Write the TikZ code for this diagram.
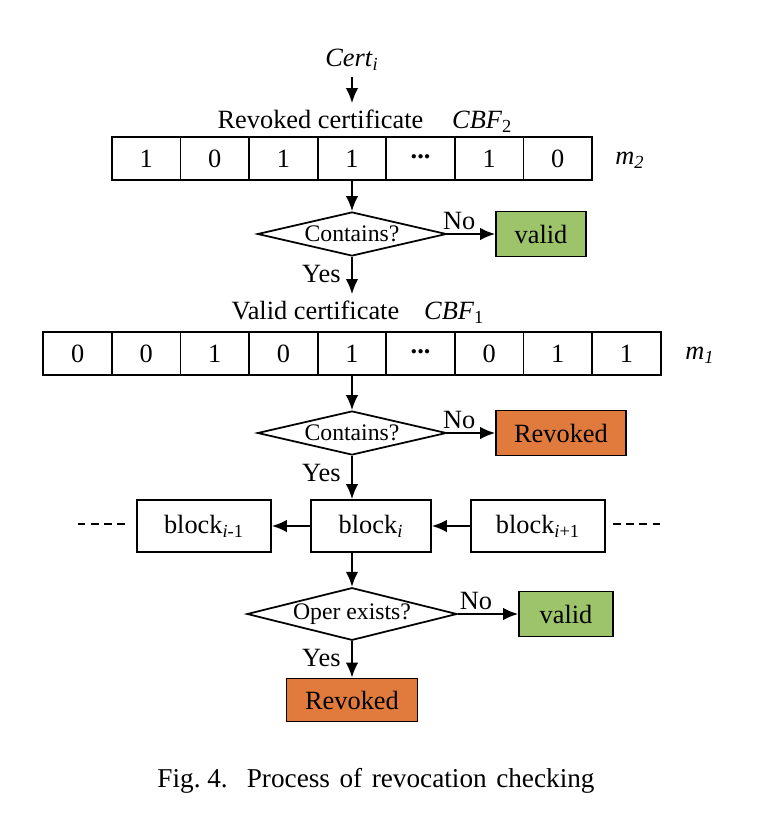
\documentclass[tikz,border=0pt]{standalone}
\usepackage{fontspec}
\setmainfont{Liberation Serif}
\usepackage{tikz}
\usetikzlibrary{shapes.geometric,arrows.meta}
\definecolor{ValidGreen}{HTML}{9DC46B}
\definecolor{RevokedOrange}{HTML}{E07B3D}
\newcommand{\celldots}{\raisebox{0.3ex}{\textbf{...}}}

\begin{document}
\begin{tikzpicture}[x=0.02cm,y=-0.02cm,
    font=\fontsize{15pt}{18pt}\selectfont,
    line width=1pt,
    cell/.style={draw, minimum width=1.372cm, minimum height=0.86cm, inner sep=0pt},
    check/.style={draw, diamond, aspect=4.3, inner sep=0pt,
      minimum width=3.78cm, minimum height=0.88cm,
      font=\fontsize{13.5pt}{16pt}\selectfont},
    blockbox/.style={draw, minimum height=1.04cm, inner sep=0pt},
    result/.style={draw, minimum height=0.9cm, inner sep=0pt},
    flow/.style={-{Latex[length=3mm,width=2.5mm]}},
    yeslabel/.style={left, inner sep=6pt},
    nolabel/.style={above, inner sep=2pt},
    dashline/.style={dash pattern=on 4.5pt off 3pt}]
  \useasboundingbox (0,0) rectangle (776,828);

  % revoked certificates filter
  \node (cert) at (352,60) {\textit{Cert}\textsubscript{\textit{i}}};
  \node (lab2) at (365,121) {Revoked certificate\hspace{1.1em}\textit{CBF}\textsubscript{2}};
  \foreach \b [count=\k] in {1,0,1,1,\celldots,1,0}
    \node[cell] (r\k) at ({352+68.6*(\k-4)},158.5) {\b};
  \node (m2) at (630,160) {\textit{m}\textsubscript{\textit{2}}};

  \node[check] (dia1) at (352,234) {Contains?};
  \node[result, fill=ValidGreen, minimum width=1.8cm] (ok1) at (541,234) {valid};

  % valid certificates filter
  \node (lab1) at (358,312) {Valid certificate\hspace{0.95em}\textit{CBF}\textsubscript{1}};
  \foreach \b [count=\k] in {0,0,1,0,1,\celldots,0,1,1}
    \node[cell] (v\k) at ({352+68.6*(\k-5)},353.5) {\b};
  \node (m1) at (700,355) {\textit{m}\textsubscript{\textit{1}}};

  \node[check] (dia2) at (352,433) {Contains?};
  \node[result, fill=RevokedOrange, minimum width=2.6cm] (bad1) at (561,433) {Revoked};

  % chain
  \node[blockbox, minimum width=2.68cm] (blkp) at (204,526) {block\textsubscript{\textit{i}-1}};
  \node[blockbox, minimum width=2.4cm] (blki) at (371,526) {block\textsubscript{\textit{i}}};
  \node[blockbox, minimum width=2.68cm] (blkn) at (538,526) {block\textsubscript{\textit{i}+1}};
  \coordinate (gapL) at (125,524);
  \coordinate (gapR) at (613,524);

  \node[check, aspect=3.7, minimum width=4.2cm, minimum height=1.04cm] (dia3) at (352,614) {Oper exists?};
  \node[result, fill=ValidGreen, minimum width=1.88cm] (ok2) at (566,614) {valid};
  \node[result, fill=RevokedOrange, minimum width=2.62cm, minimum height=0.86cm] (bad2) at (352,700) {Revoked};

  \node[font=\fontsize{15.5pt}{18pt}\selectfont] (caption) at (376,781)
    {Fig.~4.\hspace{0.7em}Process\hspace{0.35em}of\hspace{0.35em}revocation\hspace{0.35em}checking};

  \draw[flow] (cert) -- (cert.south |- lab2.north);
  \draw[flow] (r4) -- (dia1);
  \draw[flow] (dia1) -- node[nolabel, pos=0.25] {No} (ok1);
  \draw[flow] (dia1) -- node[yeslabel, pos=0.45] {Yes} (dia1.south |- lab1.north);
  \draw[flow] (v5) -- (dia2);
  \draw[flow] (dia2) -- node[nolabel, pos=0.25] {No} (bad1);
  \draw[flow] (dia2) -- node[yeslabel, pos=0.4] {Yes} (dia2.south |- blki.north);
  \draw[flow] (blki) -- (blkp);
  \draw[flow] (blkn) -- (blki);
  \draw[dashline] (gapL) -- ++(-47,0);
  \draw[dashline] (gapR) -- ++(47,0);
  \draw[flow] (dia3.north |- blki.south) -- (dia3);
  \draw[flow] (dia3) -- node[nolabel, pos=0.3] {No} (ok2);
  \draw[flow] (dia3) -- node[yeslabel, pos=0.45] {Yes} (bad2);
\end{tikzpicture}
\end{document}
